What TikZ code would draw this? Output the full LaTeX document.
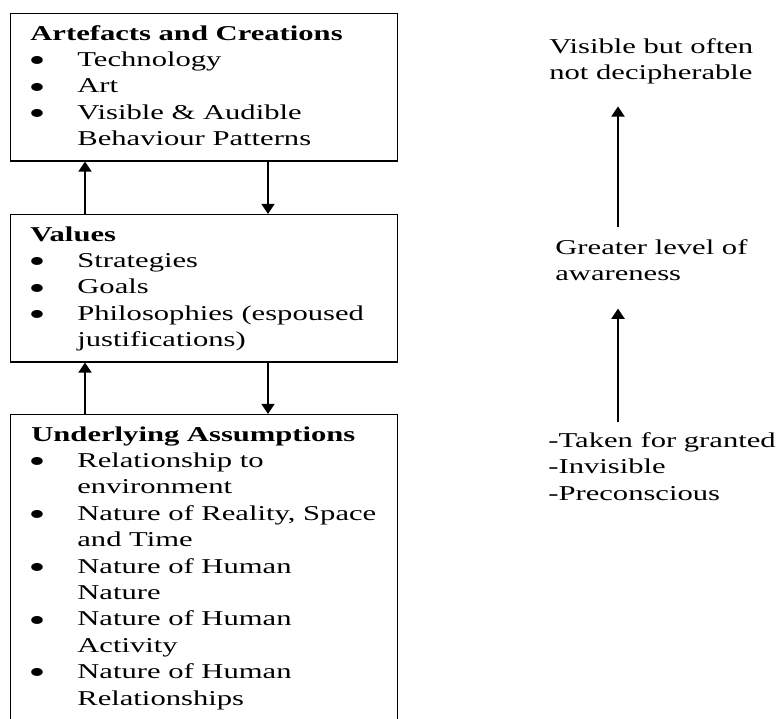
\documentclass[tikz,border=0pt]{standalone}
\usepackage{fontspec}
\setmainfont{Liberation Serif}[FakeStretch=1.45]
\usetikzlibrary{arrows.meta,calc}
\begin{document}
\begin{tikzpicture}[x=0.54pt,y=-0.54pt,
  box/.style={draw, line width=0.8pt, rectangle, inner sep=0pt, anchor=north west, minimum width=208.98pt},
  txt/.style={anchor=base west, inner sep=0pt, font=\fontsize{11.4}{14}\selectfont},
  ttl/.style={txt, font=\fontsize{11.4}{14}\selectfont\bfseries},
  bul/.style={anchor=center, inner sep=0pt, yshift=-2pt, font=\fontsize{18}{18}\selectfont},
  arr/.style={line width=1.1pt, -{Triangle[width=7pt,length=5.5pt]}}]
\useasboundingbox (0,0) rectangle (782,718);
\clip (0,0) rectangle (782,718);

% three layer boxes
\node[box, minimum height=79.4pt] (art) at (10,13) {};
\node[box, minimum height=79.4pt] (val) at (10,214) {};
\node[box, minimum height=175pt] (ua) at (10,414) {};

% artefacts
\node[ttl] (a0) at (30,40) {Artefacts and Creations};
\node[bul] (ab1) at (37,60.4) {•};
\node[txt] (a1) at (77,66.4) {Technology};
\node[bul] (ab2) at (37,86.8) {•};
\node[txt] (a2) at (77,92.8) {Art};
\node[bul] (ab3) at (37,113.2) {•};
\node[txt] (a3) at (77,119.2) {Visible \& Audible};
\node[txt] (a4) at (77,145.6) {Behaviour Patterns};

% values
\node[ttl] (v0) at (30,241) {Values};
\node[bul] (vb1) at (37,261.4) {•};
\node[txt] (v1) at (77,267.4) {Strategies};
\node[bul] (vb2) at (37,287.8) {•};
\node[txt] (v2) at (77,293.8) {Goals};
\node[bul] (vb3) at (37,314.2) {•};
\node[txt] (v3) at (77,320.2) {Philosophies (espoused};
\node[txt] (v4) at (77,346.6) {justifications)};

% underlying assumptions
\node[ttl] (u0) at (31,441) {Underlying Assumptions};
\node[bul] (ub1) at (37,461.4) {•};
\node[txt] (u1) at (77,467.4) {Relationship to};
\node[txt] (u2) at (77,493.8) {environment};
\node[bul] (ub2) at (37,514.2) {•};
\node[txt] (u3) at (77,520.2) {Nature of Reality, Space};
\node[txt] (u4) at (77,546.6) {and Time};
\node[bul] (ub3) at (37,567) {•};
\node[txt] (u5) at (77,573) {Nature of Human};
\node[txt] (u6) at (77,599.4) {Nature};
\node[bul] (ub4) at (37,619.8) {•};
\node[txt] (u7) at (77,625.8) {Nature of Human};
\node[txt] (u8) at (77,652.2) {Activity};
\node[bul] (ub5) at (37,672.6) {•};
\node[txt] (u9) at (77,678.6) {Nature of Human};
\node[txt] (u10) at (77,705) {Relationships};

% arrows between the layers
\draw[arr] ($(val.north west)+(75,0)$) -- ($(art.south west)+(75,0)$);
\draw[arr] ($(art.south west)+(258,0)$) -- ($(val.north west)+(258,0)$);
\draw[arr] ($(ua.north west)+(75,0)$) -- ($(val.south west)+(75,0)$);
\draw[arr] ($(val.south west)+(258,0)$) -- ($(ua.north west)+(258,0)$);

% awareness scale
\node[txt] (r1) at (549,53) {Visible but often};
\node[txt] (r2) at (549,79.5) {not decipherable};
\node[txt] (g1) at (555,254) {Greater level of};
\node[txt] (g2) at (555,280) {awareness};
\node[txt] (k1) at (548,447.5) {-Taken for granted};
\node[txt] (k2) at (548,473.5) {-Invisible};
\node[txt] (k3) at (548,500) {-Preconscious};

\draw[arr] ($(k1.north west)+(70,-10)$) -- ($(g2.south west)+(63,28)$);
\draw[arr] ($(g1.north west)+(63,-11.6)$) -- ($(r2.south west)+(69,22)$);
\end{tikzpicture}
\end{document}
